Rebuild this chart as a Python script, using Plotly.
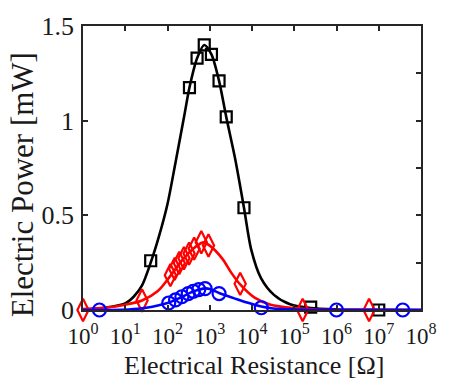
import plotly.graph_objects as go

# ---- data ----
# fitted curves (resistance in ohm, power in mW)
black_curve_R = [1, 3.16, 10, 15.8, 25, 40, 63, 100, 158, 251, 331, 501, 741, 1096, 1660, 2455,
                 3981, 6457, 9550, 16200, 33100, 79400, 245000, 1e6, 1e7, 1e8]
black_curve_P = [0.004, 0.012, 0.035, 0.07, 0.13, 0.25, 0.39, 0.56, 0.79, 1.03, 1.175, 1.33, 1.40, 1.35,
                 1.21, 1.02, 0.80, 0.54, 0.32, 0.17, 0.08, 0.03, 0.01, 0.003, 0.001, 0.0]

red_curve_R = [1, 3.16, 10, 25, 59, 117, 200, 316, 501, 708, 1000, 2000, 3160, 5250, 11500, 27500,
               1e5, 3.16e5, 1e6, 1e8]
red_curve_P = [0.005, 0.012, 0.028, 0.05, 0.10, 0.18, 0.25, 0.30, 0.34, 0.357, 0.34, 0.27, 0.20, 0.135,
               0.065, 0.028, 0.01, 0.003, 0.001, 0.0]

blue_curve_R = [1, 12, 31.6, 100, 200, 400, 794, 1000, 1660, 2340, 3980, 6300, 11500, 16600, 31600,
                1e5, 1e6, 1e8]
blue_curve_P = [0.0, 0.003, 0.012, 0.037, 0.065, 0.097, 0.114, 0.111, 0.09, 0.078, 0.06, 0.045, 0.028,
                0.018, 0.008, 0.003, 0.0, 0.0]

# measured points
black_R = [40, 331, 501, 741, 1096, 1660, 2455, 6457, 245000, 1e7]
black_P = [0.26, 1.175, 1.33, 1.40, 1.35, 1.21, 1.02, 0.54, 0.015, 0.0]

red_R = [1, 25, 117, 148, 190, 245, 324, 427, 631, 933, 5250, 1.58e5, 5.9e6]
red_P = [0.0, 0.05, 0.184, 0.217, 0.248, 0.273, 0.298, 0.324, 0.358, 0.341, 0.138, 0.0, 0.0]

blue_R = [2.45, 107, 155, 219, 309, 407, 550, 776, 1660, 16600, 1e6, 3.7e7]
blue_P = [0.0, 0.037, 0.053, 0.07, 0.087, 0.099, 0.108, 0.113, 0.087, 0.012, 0.0, 0.0]

x_tickvals = [1, 10, 100, 1e3, 1e4, 1e5, 1e6, 1e7, 1e8]
x_ticktext = ["10<sup>0</sup>", "10<sup>1</sup>", "10<sup>2</sup>", "10<sup>3</sup>", "10<sup>4</sup>",
              "10<sup>5</sup>", "10<sup>6</sup>", "10<sup>7</sup>", "10<sup>8</sup>"]
y_tickvals = [0, 0.5, 1, 1.5]
y_ticktext = ["0", "0.5", "1", "1.5"]
y_minor_ticks = [0, 0.25, 0.5, 0.75, 1.0, 1.25, 1.5]

FONT = "Liberation Serif"
AX = "#262626"

fig = go.Figure()
series = [
    (black_curve_R, black_curve_P, black_R, black_P, "black", "square-open", 11),
    (red_curve_R, red_curve_P, red_R, red_P, "red", "diamond-tall-open", 16),
    (blue_curve_R, blue_curve_P, blue_R, blue_P, "blue", "circle-open", 13),
]
for cR, cP, mR, mP, col, sym, sz in series:
    fig.add_trace(go.Scatter(x=cR, y=cP, mode="lines", line=dict(color=col, width=2.6, shape="spline", smoothing=0.8),
                             showlegend=False, cliponaxis=False, hoverinfo="skip"))
    fig.add_trace(go.Scatter(x=mR, y=mP, mode="markers",
                             marker=dict(symbol=sym, size=sz, color=col, line=dict(width=2.2, color=col)),
                             showlegend=False, cliponaxis=False))

# invisible trace for right-side tick axis
fig.add_trace(go.Scatter(x=[1], y=[0], yaxis="y2", mode="markers", marker=dict(opacity=0),
                         showlegend=False, hoverinfo="skip"))

fig.update_layout(
    width=449, height=388,
    margin=dict(l=83, r=17, t=15, b=78),
    paper_bgcolor="white", plot_bgcolor="white",
    font=dict(family=FONT, color="#1a1a1a"),
    xaxis=dict(type="log", range=[0, 8], tickvals=x_tickvals, ticktext=x_ticktext,
               ticks="inside", ticklen=5, tickcolor=AX, tickwidth=1.5,
               showline=True, linecolor=AX, linewidth=1.8, mirror="ticks",
               showgrid=False, zeroline=False, tickfont=dict(size=23, family=FONT),
               ticklabelstandoff=4),
    yaxis=dict(range=[0, 1.5], tickvals=y_tickvals, ticktext=y_ticktext,
               ticks="inside", ticklen=5, tickcolor=AX, tickwidth=1.5,
               showline=True, linecolor=AX, linewidth=1.8, mirror=True,
               showgrid=False, zeroline=False, tickfont=dict(size=26, family=FONT),
               ticklabelstandoff=2),
    yaxis2=dict(range=[0, 1.5], overlaying="y", side="right", tickvals=y_minor_ticks,
                showticklabels=False, ticks="inside", ticklen=5, tickcolor=AX, tickwidth=1.5,
                showline=False, showgrid=False, zeroline=False),
    annotations=[
        dict(text="Electrical Resistance [Ω]", xref="paper", yref="paper", x=0.505, y=-0.195,
             xanchor="center", yanchor="middle", showarrow=False, font=dict(size=26, family=FONT)),
        dict(text="Electric Power [mW]", xref="paper", yref="paper", x=-0.18, y=0.44,
             xanchor="center", yanchor="middle", textangle=-90, showarrow=False,
             font=dict(size=31, family=FONT)),
    ],
)

fig.write_html("out.html")
